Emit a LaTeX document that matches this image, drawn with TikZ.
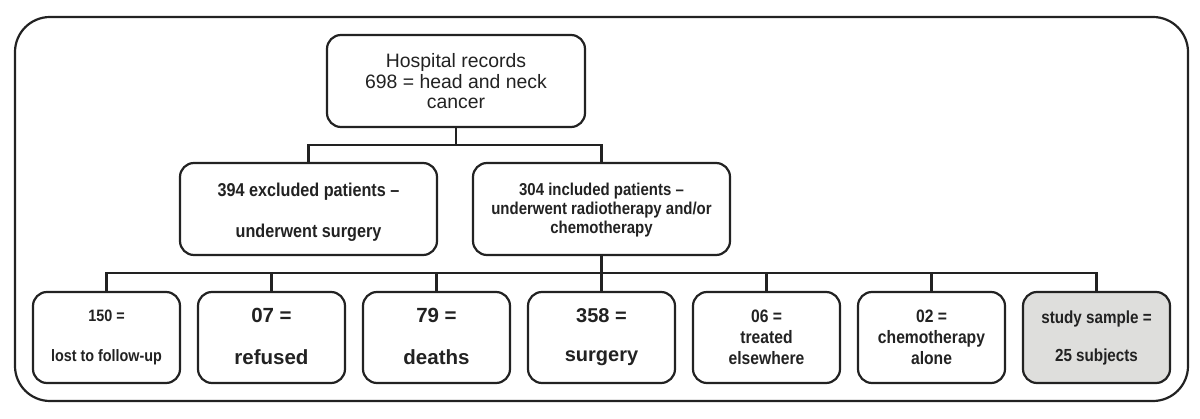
\documentclass[tikz,border=0pt]{standalone}
\usepackage{fontspec}
\setmainfont{Liberation Sans}
\newfontfamily\nb[FakeStretch=0.87]{Liberation Sans}
\definecolor{ink}{RGB}{34,34,34}
\definecolor{samp}{RGB}{222,222,220}
\newcommand\lift[2]{\raisebox{#1}[\height][\depth]{\begin{tabular}{@{}c@{}}#2\end{tabular}}}
\begin{document}
\begin{tikzpicture}[x=1pt,y=-1pt,
  box/.style={draw=ink, line width=2.2pt, rounded corners=14pt, rectangle, inner sep=0pt,
              text=ink, minimum width=147pt, minimum height=91pt},
  big/.style={box, minimum width=257pt, minimum height=92pt},
  link/.style={draw=ink, line width=2.2pt},
  narrowtext/.style 2 args={font=\nb\bfseries\fontsize{#1}{#2}\selectfont},
  widetext/.style 2 args={font=\bfseries\fontsize{#1}{#2}\selectfont},
  plaintext/.style 2 args={font=\fontsize{#1}{#2}\selectfont}]
\fill[white] (0,0) rectangle (1200,419);
\useasboundingbox (0,0) rectangle (1200,419);
\draw[link, rounded corners=35pt] (15,17) rectangle (1188,401);

\node[big, minimum width=258pt, plaintext={19.4}{20.3}] (top) at (456,81)
  {\lift{-3pt}{Hospital records\\698 = head and neck\\cancer}};
\node[big, narrowtext={18.6}{20.5}] (excl) at (308.5,209)
  {\lift{-4.4pt}{394 excluded patients –\\ \\underwent surgery}};
\node[big, narrowtext={17.2}{19}] (incl) at (601.5,209)
  {\lift{-1.7pt}{304 included patients –\\underwent radiotherapy and/or\\chemotherapy}};

\node[box, narrowtext={16.5}{20}] (b1) at (106.5,337.5)
  {\lift{-0.5pt}{150 =\\ \\lost to follow-up}};
\node[box, widetext={20.5}{20.5}] (b2) at (271.5,337.5)
  {\lift{-1.9pt}{07 =\\ \\refused}};
\node[box, widetext={20.5}{20.5}] (b3) at (436.5,337.5)
  {\lift{-1.9pt}{79 =\\ \\deaths}};
\node[box, widetext={20}{19.4}] (b4) at (601.5,337.5)
  {\lift{-0.3pt}{358 =\\ \\surgery}};
\node[box, narrowtext={18}{21}] (b5) at (766.5,337.5)
  {\lift{-1.5pt}{06 =\\treated\\elsewhere}};
\node[box, narrowtext={18}{21}] (b6) at (931.5,337.5)
  {\lift{-1.5pt}{02 =\\chemotherapy\\alone}};
\node[box, narrowtext={17.5}{19}, fill=samp] (b7) at (1096.5,337.5)
  {\lift{-0.8pt}{study sample =\\ \\25 subjects}};

\coordinate (h1) at (0,145);
\coordinate (h2) at (0,273);
\draw[link] (top.south) -- (top.south |- h1);
\draw[link] (excl.north) |- (incl.north |- h1) -- (incl.north);
\draw[link] (incl.south) -- (incl.south |- h2);
\draw[link] (b1.north) |- (b7.north |- h2) -- (b7.north);
\foreach \i in {2,...,6} {\draw[link] (b\i.north) -- (b\i.north |- h2);}
\end{tikzpicture}
\end{document}
